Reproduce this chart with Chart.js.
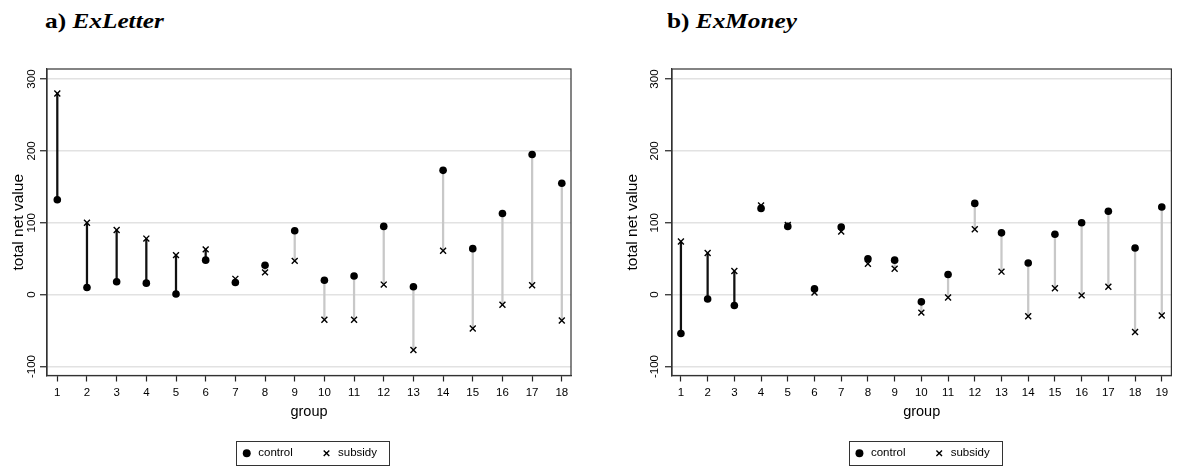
<!DOCTYPE html>
<html><head><meta charset="utf-8">
<script src="https://cdn.jsdelivr.net/npm/chart.js@4"></script>
<style>
html,body{margin:0;padding:0;background:#fff;width:1177px;height:466px;overflow:hidden;position:relative}
.ttl{position:absolute;top:10px;font-family:"Liberation Serif","Times New Roman",serif;font-weight:bold;font-size:22px;line-height:22px;white-space:nowrap;transform:scaleX(1.15);transform-origin:left top;color:#000}
.ttl i{font-style:italic}
.wrap{position:absolute;top:60px;height:409px}
</style></head><body>
<div class="ttl" style="left:45px">a) <i>ExLetter</i></div>
<div class="ttl" style="left:667px">b) <i>ExMoney</i></div>
<div class="wrap" style="left:0;width:590px"><canvas id="c1"></canvas></div>
<div class="wrap" style="left:600px;width:577px"><canvas id="c2"></canvas></div>
<script>
// ---- data ----
const letterGroups  = [1,2,3,4,5,6,7,8,9,10,11,12,13,14,15,16,17,18];
const letterControl = [132,10,18,16,1,48,17,41,89,20,26,95,11,173,64,113,195,155];
const letterSubsidy = [280,100,90,78,55,63,22,31,47,-35,-35,14,-77,61,-47,-14,13,-36];

const moneyGroups  = [1,2,3,4,5,6,7,8,9,10,11,12,13,14,15,16,17,18,19];
const moneyControl = [-54,-6,-15,120,95,8,94,50,48,-10,28,127,86,44,84,100,116,65,122];
const moneySubsidy = [74,58,33,124,97,3,88,43,36,-25,-4,91,32,-30,9,-1,11,-52,-29];

const seriesNames = ['control','subsidy'];
const yAxisTitle = 'total net value';
const xAxisTitle = 'group';

const FONT = '"Liberation Sans", Arial, Helvetica, sans-serif';

const framePlugin = {
  id: 'frame',
  afterDraw(chart) {
    const {ctx, chartArea: a} = chart;
    ctx.save();
    ctx.strokeStyle = '#333'; ctx.lineWidth = 1.2;
    ctx.strokeRect(a.left, a.top, a.right - a.left, a.bottom - a.top);
    const lg = chart.legend;
    if (lg && lg.legendHitBoxes && lg.legendHitBoxes.length) {
      const hb = lg.legendHitBoxes, first = hb[0], last = hb[hb.length - 1];
      const cy = first.top + first.height / 2;
      ctx.lineWidth = 1;
      const l = Math.round(first.left - 5) + 0.5;
      const r = Math.round(last.left + last.width + 12) + 0.5;
      ctx.strokeRect(l, Math.round(cy - 12) + 0.5, r - l, 24);
    }
    ctx.restore();
  }
};

function makeChart(id, groups, control, subsidy, o) {
  const segColors = groups.map((g, i) => subsidy[i] > control[i] ? '#111' : '#c8c8c8');
  return new Chart(document.getElementById(id), {
    type: 'scatter',
    data: {
      datasets: [
        {type: 'bar', label: 'range', data: groups.map((g, i) => ({x: g, y: [control[i], subsidy[i]]})),
         backgroundColor: segColors, borderWidth: 0, barThickness: 1.6, grouped: false, order: 3},
        {label: seriesNames[0], data: groups.map((g, i) => ({x: g, y: control[i]})),
         pointStyle: 'circle', pointRadius: 3.8, backgroundColor: '#000', borderColor: '#000', borderWidth: 0, order: 2},
        {label: seriesNames[1], data: groups.map((g, i) => ({x: g, y: subsidy[i]})),
         pointStyle: 'crossRot', pointRadius: 4.2, backgroundColor: '#000', borderColor: '#000', borderWidth: 1.4, order: 1}
      ]
    },
    options: {
      responsive: true, maintainAspectRatio: false, animation: false,
      layout: {padding: {top: 9, right: o.padRight, left: 0, bottom: 0}},
      plugins: {
        legend: {position: 'bottom', fullSize: false,
          labels: {usePointStyle: true, boxHeight: 5.6, padding: 28, color: '#000',
                   font: {family: FONT, size: 11.5}, filter: it => it.text !== 'range',
                   sort: (a, b) => a.datasetIndex - b.datasetIndex}},
        tooltip: {enabled: false}
      },
      scales: {
        x: {type: 'linear', min: o.xmin, max: o.xmax, offset: false,
            grid: {display: true, drawOnChartArea: false, drawTicks: true, tickLength: 6, tickColor: '#222', tickWidth: 1.2, offset: false},
            border: {display: true, color: '#333', width: 1.2},
            ticks: {stepSize: 1, autoSkip: false, includeBounds: false, maxRotation: 0, minRotation: 0, padding: 4,
                    color: '#000', font: {family: FONT, size: 11.5}},
            title: {display: true, text: xAxisTitle, color: '#000', font: {family: FONT, size: 14.5, lineHeight: 1}, padding: {top: 0, bottom: 0}},
            afterFit(s) { s.height = 44; }
        },
        y: {type: 'linear', min: -112.5, max: 314,
            grid: {color: '#e2e2e2', lineWidth: 1.5, tickLength: 7, tickColor: '#222', tickWidth: 1.2},
            border: {display: true, color: '#333', width: 1.2},
            ticks: {stepSize: 100, includeBounds: false, minRotation: 90, maxRotation: 90, crossAlign: 'center',
                    padding: o.yTickPad, color: '#000', font: {family: FONT, size: 11.5}},
            title: {display: true, text: yAxisTitle, color: '#000', font: {family: FONT, size: 15.5, lineHeight: 1}, padding: {top: o.yTitlePad, bottom: 0}},
            afterFit(s) { s.width = o.yWidth; }
        }
      }
    },
    plugins: [framePlugin]
  });
}

makeChart('c1', letterGroups, letterControl, letterSubsidy,
  {xmin: 0.653, xmax: 18.31, padRight: 19, yWidth: 47, yTickPad: -3, yTitlePad: 11});
makeChart('c2', moneyGroups, moneyControl, moneySubsidy,
  {xmin: 0.666, xmax: 19.36, padRight: 1, yWidth: 72, yTickPad: -1.5, yTitlePad: 25});
</script>
</body></html>
